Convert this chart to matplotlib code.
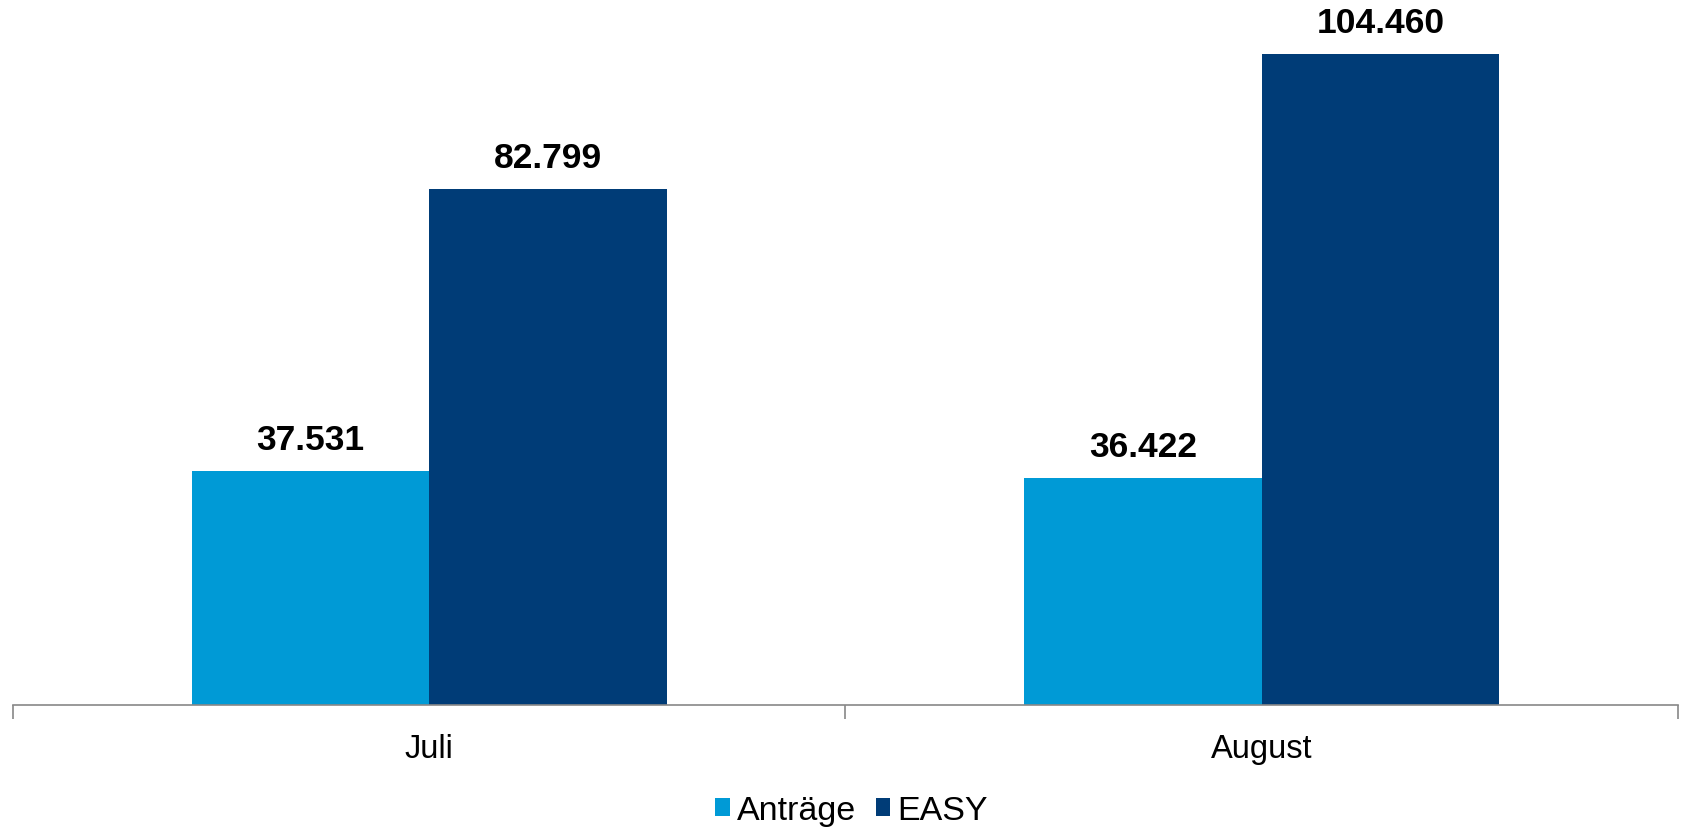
import numpy as np
import matplotlib
matplotlib.use("Agg")
from matplotlib import pyplot as plt

months = ["Juli", "August"]
antraege = [37531, 36422]
easy = [82799, 104460]
series_names = ["Anträge", "EASY"]

col_a = "#009ad6"
col_e = "#003c77"

plt.rcParams['font.family'] = ['Liberation Sans', 'DejaVu Sans']

fig = plt.figure(figsize=(16.83, 8.28), dpi=100)
ax = fig.add_axes([13/1683, 122/828, 1665/1683, (706-20.5)/828])

x = np.arange(len(months))
w = 0.285
b1 = ax.bar(x - w/2, antraege, w, color=col_a, label=series_names[0])
b2 = ax.bar(x + w/2, easy, w, color=col_e, label=series_names[1])

def fmt(v):
    return f"{v:,}".replace(",", ".")

for bars, vals in ((b1, antraege), (b2, easy)):
    for r, v in zip(bars, vals):
        ax.annotate(fmt(v), (r.get_x() + r.get_width()/2, v),
                    xytext=(0, 11), textcoords="offset points",
                    ha="center", va="bottom", fontsize=25.5, fontweight="bold")

ax.set_xlim(-0.5, 1.5)
ax.set_ylim(0, 110000)
ax.set_yticks([])
for s in ["top", "right", "left"]:
    ax.spines[s].set_visible(False)
ax.spines["bottom"].set_color("#888888")
ax.spines["bottom"].set_linewidth(1.2)

ax.set_xticks(x)
ax.set_xticklabels(months, fontsize=23.5)
ax.tick_params(axis="x", which="major", length=0, pad=20)
ax.set_xticks([-0.5, 0.5, 1.5], minor=True)
ax.tick_params(axis="x", which="minor", length=10, color="#888888", width=1.2)

fig.legend(loc="center", bbox_to_anchor=(0.506, 0.02), ncol=2, frameon=False,
           fontsize=24.5, handlelength=0.42, handleheight=0.42, handletextpad=0.2,
           columnspacing=0.6)

fig.savefig("out.png", dpi=100)
